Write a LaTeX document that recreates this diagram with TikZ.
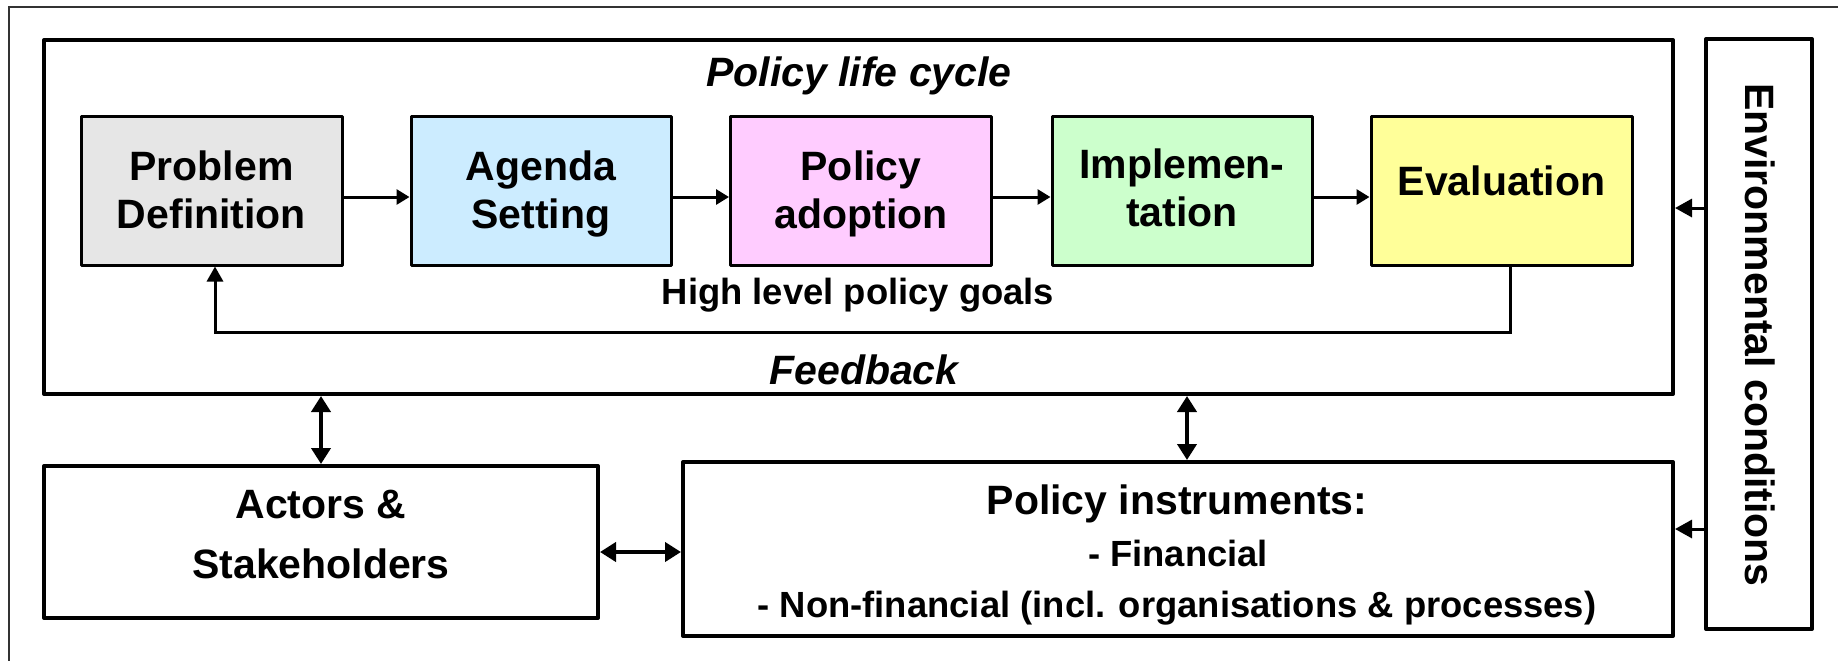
\documentclass[tikz,border=0pt]{standalone}
\usepackage{fontspec}
\setmainfont{Liberation Sans}
\usetikzlibrary{arrows.meta}
\definecolor{pdgray}{HTML}{E6E6E6}
\definecolor{asblue}{HTML}{CCECFF}
\definecolor{papink}{HTML}{FFCCFF}
\definecolor{imgreen}{HTML}{CCFFCC}
\definecolor{evyellow}{HTML}{FFFF99}
\newcommand\twolines[2]{\begin{tabular}[t]{@{}c@{}}#1\\#2\end{tabular}}
\begin{document}
\begin{tikzpicture}[x=0.5pt,y=-0.5pt,
  stagebox/.style={draw, line width=1.5pt, minimum width=130.5pt, minimum height=74.5pt, inner sep=0pt, line join=round},
  heavybox/.style={draw, line width=2pt, inner sep=0pt, line join=round},
  bigtxt/.style={font=\fontsize{20.5}{24}\selectfont\bfseries, inner sep=0pt},
  smalltxt/.style={font=\fontsize{18.2}{21}\selectfont\bfseries, inner sep=0pt},
  flow/.style={line width=1.5pt, -{Triangle[length=6.5pt,width=7.5pt]}},
  bothway/.style={line width=2pt, {Triangle[length=8pt,width=9.5pt]}-{Triangle[length=8pt,width=9.5pt]}},
  envarrow/.style={line width=1.5pt, -{Triangle[length=8.5pt,width=9pt]}},
]
\useasboundingbox (0,0) rectangle (1838,660);
% outer frame (cut by the page)
\coordinate (frA) at (9,680);
\coordinate (frB) at (9,7);
\coordinate (frC) at (1860,7);
\draw[line width=1pt, black!80] (frA) -- (frB) -- (frC);

% main box
\node[heavybox, minimum width=814.5pt, minimum height=177pt] (main) at (858.5,217) {};
\node[bigtxt, anchor=base] (title) at (859,86) {\itshape Policy life cycle};

% stages
\node[stagebox, fill=pdgray]   (pd) at (211.5,190.5) {};
\node[stagebox, fill=asblue, minimum width=130pt]   (as) at (541,190.5) {};
\node[stagebox, fill=papink]   (pa) at (861,190.5) {};
\node[stagebox, fill=imgreen, minimum width=130pt]  (im) at (1182,190.5) {};
\node[stagebox, fill=evyellow] (ev) at (1501.5,190.5) {};

\node[bigtxt, anchor=base] (pdt) at (211.5,180) {\twolines{Problem}{Definition}};
\node[bigtxt, anchor=base] (ast) at (541,180) {\twolines{Agenda}{Setting}};
\node[bigtxt, anchor=base] (pat) at (861,180) {\twolines{Policy}{adoption}};
\node[bigtxt, anchor=base] (imt) at (1182,178) {\twolines{Implemen-}{tation}};
\node[bigtxt, anchor=base] (evt) at (1501.5,195) {Evaluation};

\draw[flow] ([yshift=-3.25pt]pd.east) -- ([yshift=-3.25pt]as.west);
\draw[flow] ([yshift=-3.25pt]as.east) -- ([yshift=-3.25pt]pa.west);
\draw[flow] ([yshift=-3.25pt]pa.east) -- ([yshift=-3.25pt]im.west);
\draw[flow] ([yshift=-3.25pt]im.east) -- ([yshift=-3.25pt]ev.west);

% feedback loop
\coordinate (fbR) at (1510,332);
\coordinate (fbL) at (215,332);
\draw[line width=1.5pt, -{Triangle[length=7.5pt,width=8pt]}] (fbR |- ev.south) -- (fbR) -- (fbL) -- (fbL |- pd.south);
\node[smalltxt, anchor=base] (goals) at (858,304) {High level policy goals};
\node[bigtxt, anchor=base] (fbt) at (864,384) {\itshape Feedback};

% lower boxes
\node[heavybox, minimum width=277pt, minimum height=76pt] (act) at (321,542) {};
\node[bigtxt, font=\fontsize{20.5}{30}\selectfont\bfseries, anchor=base] (actt) at (321,518) {\twolines{Actors \&}{Stakeholders}};

\node[heavybox, minimum width=495pt, minimum height=87pt] (pi) at (1178,549) {};
\node[bigtxt, anchor=base] (pit1) at (1177,514) {Policy instruments:};
\node[smalltxt, anchor=base] (pit2) at (1178,566) {- Financial};
\node[smalltxt, anchor=base] (pit3) at (1177,617) {- Non-financial (incl. organisations \& processes)};

% environmental conditions
\node[heavybox, minimum width=53pt, minimum height=295pt] (env) at (1759,334) {};
\node[bigtxt, rotate=-90] (envt) at (1760,335) {Environmental conditions};

% connectors
\coordinate (va) at (321,0);
\coordinate (vb) at (1187,0);
\coordinate (ha) at (0,552);
\coordinate (ea) at (0,208);
\coordinate (eb) at (0,529);
\draw[bothway] (va |- main.south) -- (va |- act.north);
\draw[bothway] (vb |- main.south) -- (vb |- pi.north);
\draw[bothway] (ha -| act.east) -- (ha -| pi.west);
\draw[envarrow] (ea -| env.west) -- (ea -| main.east);
\draw[envarrow] (eb -| env.west) -- (eb -| pi.east);
\end{tikzpicture}
\end{document}
